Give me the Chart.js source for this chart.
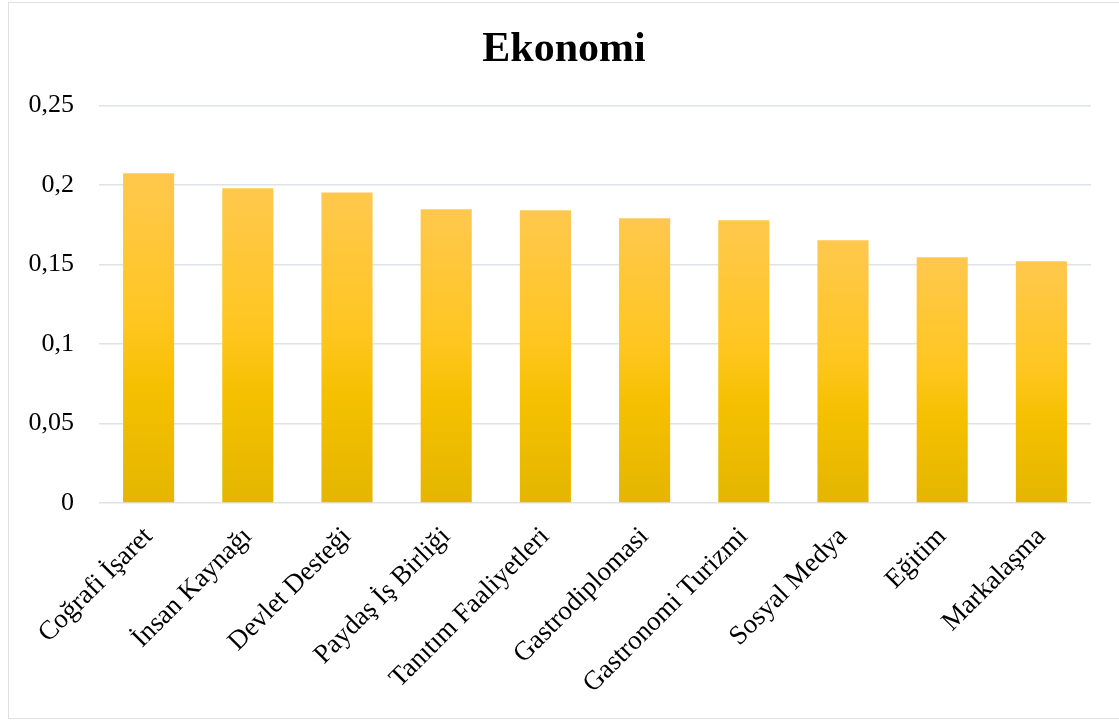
<!DOCTYPE html>
<html>
<head>
<meta charset="utf-8">
<script src="https://cdn.jsdelivr.net/npm/chart.js@4.4.1/dist/chart.umd.min.js"></script>
<style>
  html, body { margin: 0; padding: 0; background: #fff; }
  #wrap { position: relative; width: 1119px; height: 722px; overflow: hidden; }
  #frame { position: absolute; left: 8px; top: 2px; width: 1120px; height: 717px; border: 1.5px solid #dde1e6; box-sizing: border-box; }
  #chart { position: absolute; left: 0; top: 0; }
</style>
</head>
<body>
<div id="wrap">
  <div id="frame"></div>
  <canvas id="chart" width="1119" height="722"></canvas>
</div>
<script>
const categories = ["Coğrafi İşaret", "İnsan Kaynağı", "Devlet Desteği", "Paydaş İş Birliği", "Tanıtım Faaliyetleri",
  "Gastrodiplomasi", "Gastronomi Turizmi", "Sosyal Medya", "Eğitim", "Markalaşma"];
const values = [0.2073, 0.1979, 0.1953, 0.1847, 0.184, 0.179, 0.1778, 0.1652, 0.1545, 0.152];
const yTickLabels = ["0", "0,05", "0,1", "0,15", "0,2", "0,25"];

const serif = "'Liberation Serif', 'Times New Roman', serif";

// gradient per bar, from its top down to the axis
const barFill = (ctx) => {
  const chart = ctx.chart;
  const area = chart.chartArea;
  if (!area || ctx.raw === undefined) return "#FFC000";
  const top = chart.scales.y.getPixelForValue(ctx.raw);
  const bottom = chart.scales.y.getPixelForValue(0);
  const g = chart.ctx.createLinearGradient(0, top, 0, bottom);
  g.addColorStop(0, "#FFC84D");
  g.addColorStop(0.45, "#FFC620");
  g.addColorStop(0.65, "#F5C000");
  g.addColorStop(1, "#E4B600");
  return g;
};

// title is centred on the frame, not on the plot area
const titleShift = {
  id: "titleShift",
  afterLayout(chart) {
    if (chart.titleBlock) chart.titleBlock.left = 37;
  }
};

new Chart(document.getElementById("chart"), {
  type: "bar",
  data: {
    labels: categories,
    datasets: [{
      data: values,
      backgroundColor: barFill,
      borderWidth: 0,
      barPercentage: 0.515,
      categoryPercentage: 1
    }]
  },
  plugins: [titleShift],
  options: {
    responsive: false,
    animation: false,
    layout: { padding: { left: 0, right: 28, top: 0, bottom: 0 } },
    plugins: {
      legend: { display: false },
      tooltip: { enabled: false },
      title: {
        display: true,
        text: "Ekonomi",
        color: "#000",
        font: { family: serif, size: 42, weight: "bold" },
        padding: { top: 25, bottom: 30 }
      }
    },
    scales: {
      x: {
        grid: { display: false },
        border: { display: false },
        afterFit: (s) => { s.height = 219; },
        ticks: {
          color: "#000",
          font: { family: serif, size: 27 },
          maxRotation: 45,
          minRotation: 45,
          autoSkip: false,
          padding: 10
        }
      },
      y: {
        min: 0,
        max: 0.25,
        afterFit: (s) => { s.width = 99; },
        border: { display: false },
        grid: { color: "#dfe2e7", lineWidth: 1.5, drawTicks: false },
        ticks: {
          stepSize: 0.05,
          color: "#000",
          font: { family: serif, size: 26 },
          padding: 25,
          callback: (v, i) => yTickLabels[i]
        }
      }
    }
  }
});
</script>
</body>
</html>
